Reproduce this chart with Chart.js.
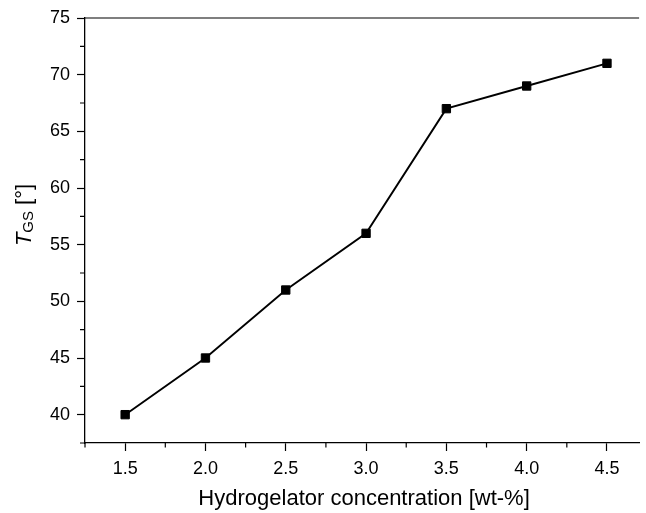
<!DOCTYPE html>
<html>
<head>
<meta charset="utf-8">
<script src="https://cdn.jsdelivr.net/npm/chart.js@4/dist/chart.umd.min.js"></script>
<style>
html,body{margin:0;padding:0;background:#fff;}
#c{display:block;}
</style>
</head>
<body>
<canvas id="c" width="646" height="513"></canvas>
<script>
// ---- data ----
const concentrations = [1.5, 2.0, 2.5, 3.0, 3.5, 4.0, 4.5];
const tgsValues = [40, 45, 51, 56, 67, 69, 71];
const xTickValues = [1.5, 2.0, 2.5, 3.0, 3.5, 4.0, 4.5];
const yTickValues = [40, 45, 50, 55, 60, 65, 70, 75];
const xMinorTicks = [1.25, 1.75, 2.25, 2.75, 3.25, 3.75, 4.25];
const yMinorTicks = [37.5, 42.5, 47.5, 52.5, 57.5, 62.5, 67.5, 72.5];
const xTitle = 'Hydrogelator concentration [wt-%]';
const yTitleMain = 'T';
const yTitleSub = 'GS';
const yTitleRest = ' [°]';

const FONT = '"Liberation Sans", Arial, Helvetica, sans-serif';

const decor = {
  id: 'decor',
  afterDraw(chart) {
    const { ctx, chartArea: a, scales: { x, y } } = chart;
    ctx.save();
    ctx.strokeStyle = '#000';
    ctx.lineWidth = 1.2;
    // top frame line
    ctx.beginPath();
    ctx.moveTo(a.left, a.top);
    ctx.lineTo(a.right, a.top);
    ctx.stroke();
    // minor ticks
    ctx.beginPath();
    xMinorTicks.forEach(v => {
      const px = x.getPixelForValue(v);
      ctx.moveTo(px, a.bottom);
      ctx.lineTo(px, a.bottom + 4.5);
    });
    yMinorTicks.forEach(v => {
      const py = y.getPixelForValue(v);
      ctx.moveTo(a.left, py);
      ctx.lineTo(a.left - 5, py);
    });
    ctx.stroke();

    // x title
    ctx.fillStyle = '#000';
    ctx.font = '22px ' + FONT;
    ctx.textAlign = 'center';
    ctx.textBaseline = 'alphabetic';
    ctx.fillText(xTitle, (a.left + a.right) / 2 + 2, 505);

    // y title (T italic with GS subscript)
    ctx.translate(31, 215);
    ctx.rotate(-Math.PI / 2);
    ctx.textAlign = 'left';
    const fMain = 'italic 22px ' + FONT;
    const fSub = '15px ' + FONT;
    const fRest = '22px ' + FONT;
    ctx.font = fMain; const w1 = ctx.measureText(yTitleMain).width;
    ctx.font = fSub; const w2 = ctx.measureText(yTitleSub).width;
    ctx.font = fRest; const w3 = ctx.measureText(yTitleRest).width;
    let sx = -(w1 + w2 + w3) / 2;
    ctx.font = fMain; ctx.fillText(yTitleMain, sx, 0); sx += w1;
    ctx.font = fSub; ctx.fillText(yTitleSub, sx, 1.5); sx += w2;
    ctx.font = fRest; ctx.fillText(yTitleRest, sx, 0);
    ctx.restore();
  }
};

new Chart(document.getElementById('c'), {
  type: 'line',
  data: {
    datasets: [{
      data: concentrations.map((c, i) => ({ x: c, y: tgsValues[i] })),
      borderColor: '#000',
      backgroundColor: '#000',
      borderWidth: 1.9,
      pointStyle: 'rect',
      pointRadius: 5.9,
      pointBorderWidth: 1,
      pointBackgroundColor: '#000',
      pointBorderColor: '#000',
      tension: 0,
      fill: false
    }]
  },
  options: {
    responsive: false,
    animation: false,
    devicePixelRatio: 1,
    layout: { padding: { top: 18, right: 0, left: 0, bottom: 0 } },
    plugins: { legend: { display: false }, tooltip: { enabled: false }, title: { display: false } },
    scales: {
      x: {
        type: 'linear',
        min: 1.25,
        max: 4.7,
        afterBuildTicks: s => { s.ticks = xTickValues.map(v => ({ value: v })); },
        afterFit: s => { s.height = 70; },
        border: { display: true, color: '#000', width: 1.3 },
        grid: { display: true, drawOnChartArea: false, drawTicks: true, tickLength: 8, color: '#000', tickWidth: 1.2 },
        ticks: {
          color: '#000',
          font: { family: FONT, size: 18 },
          padding: 7,
          maxRotation: 0,
          autoSkip: false,
          callback: v => Number(v).toFixed(1)
        }
      },
      y: {
        type: 'linear',
        min: 37.5,
        max: 75,
        afterBuildTicks: s => { s.ticks = yTickValues.map(v => ({ value: v })); },
        afterFit: s => { s.width = 85; },
        border: { display: true, color: '#000', width: 1.3 },
        grid: { display: true, drawOnChartArea: false, drawTicks: true, tickLength: 8, color: '#000', tickWidth: 1.2 },
        ticks: {
          color: '#000',
          font: { family: FONT, size: 18 },
          padding: 7,
          autoSkip: false,
          callback: v => String(v)
        }
      }
    }
  },
  plugins: [decor]
});
</script>
</body>
</html>
